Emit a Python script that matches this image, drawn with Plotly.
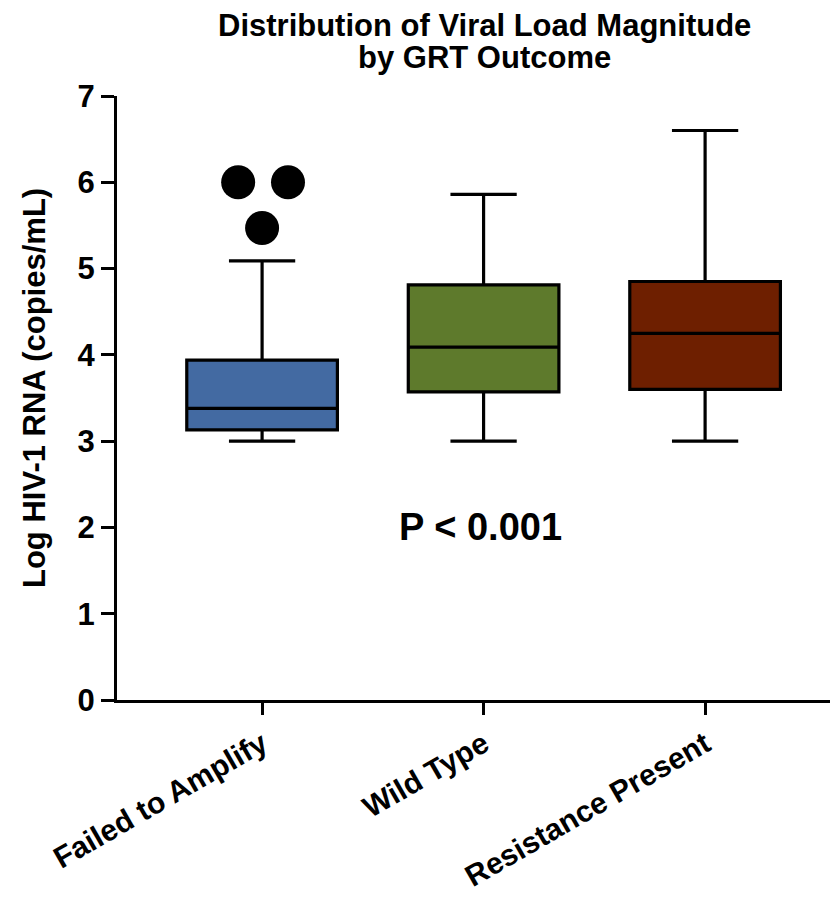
import plotly.graph_objects as go

categories = ["Failed to Amplify", "Wild Type", "Resistance Present"]
lower_whisker = [3.00, 3.00, 3.00]
q1_values = [3.13, 3.57, 3.60]
median_values = [3.38, 4.09, 4.25]
q3_values = [3.94, 4.81, 4.85]
upper_whisker = [5.09, 5.86, 6.60]
box_colors = ["#436AA2", "#5E7A2C", "#6E1F00"]

outlier_group = [0, 0, 0]
outlier_jitter = [-0.108, 0.117, 0.0]
outlier_values = [6.00, 6.00, 5.47]

y_ticks = [0, 1, 2, 3, 4, 5, 6, 7]
title_lines = ["Distribution of Viral Load Magnitude", "by GRT Outcome"]

FONT = "Liberation Sans, Arial, Helvetica, sans-serif"
W, H = 830, 889
L, R, T, B = 109, 0, 88, 197
PW = W - L - R
PH = H - T - B

fig = go.Figure()
for i, cat in enumerate(categories):
    fig.add_trace(go.Box(
        x=[i], q1=[q1_values[i]], median=[median_values[i]], q3=[q3_values[i]],
        lowerfence=[lower_whisker[i]], upperfence=[upper_whisker[i]],
        name=cat, width=0.68, whiskerwidth=0.44,
        fillcolor=box_colors[i], line=dict(color="black", width=3.2),
        boxpoints=False, showlegend=False, hoverinfo="skip",
    ))

fig.add_trace(go.Scatter(
    x=[outlier_group[k] + outlier_jitter[k] for k in range(len(outlier_values))],
    y=outlier_values, mode="markers",
    marker=dict(color="black", size=34, line=dict(width=0)),
    showlegend=False, hoverinfo="skip",
))

fig.add_annotation(
    x=0.984, y=2.0, xref="x", yref="y", text="P &lt; 0.001", showarrow=False,
    font=dict(family=FONT, size=38, color="black", weight="bold"),
    xanchor="center", yanchor="middle",
)

fig.add_annotation(
    x=(26 - L) / PW, y=(H - B - (388 - 8)) / PH, xref="paper", yref="paper",
    text="Log HIV-1 RNA (copies/mL)", textangle=-90, showarrow=False,
    font=dict(family=FONT, size=31, color="black", weight="bold"),
    xanchor="center", yanchor="middle",
)

for j, (line, cy) in enumerate(zip(title_lines, [25, 57])):
    fig.add_annotation(
        x=(476 - L) / PW, y=(H - B - (cy - 8)) / PH, xref="paper", yref="paper",
        text=line, showarrow=False,
        font=dict(family=FONT, size=31, color="black", weight="bold"),
        xanchor="center", yanchor="middle",
    )

fig.update_layout(
    width=W, height=H,
    margin=dict(l=L, r=R, t=T, b=B, autoexpand=False),
    paper_bgcolor="white", plot_bgcolor="white",
    xaxis=dict(
        range=[-0.655, 2.60], tickmode="array", automargin=False,
        tickvals=list(range(len(categories))), ticktext=categories,
        tickangle=-30, ticks="outside", ticklen=12, tickwidth=3, tickcolor="black",
        showline=True, linewidth=3, linecolor="black", showgrid=False, zeroline=False,
        tickfont=dict(family=FONT, size=30, color="black", weight="bold"),
    ),
    yaxis=dict(
        range=[0, 7], tickmode="array", tickvals=y_ticks, automargin=False,
        ticks="outside", ticklen=13, tickwidth=3, tickcolor="black",
        showline=True, linewidth=3, linecolor="black", showgrid=False, zeroline=False,
        tickfont=dict(family=FONT, size=31, color="black", weight="bold"),
    ),
)

fig.write_html("out.html")
